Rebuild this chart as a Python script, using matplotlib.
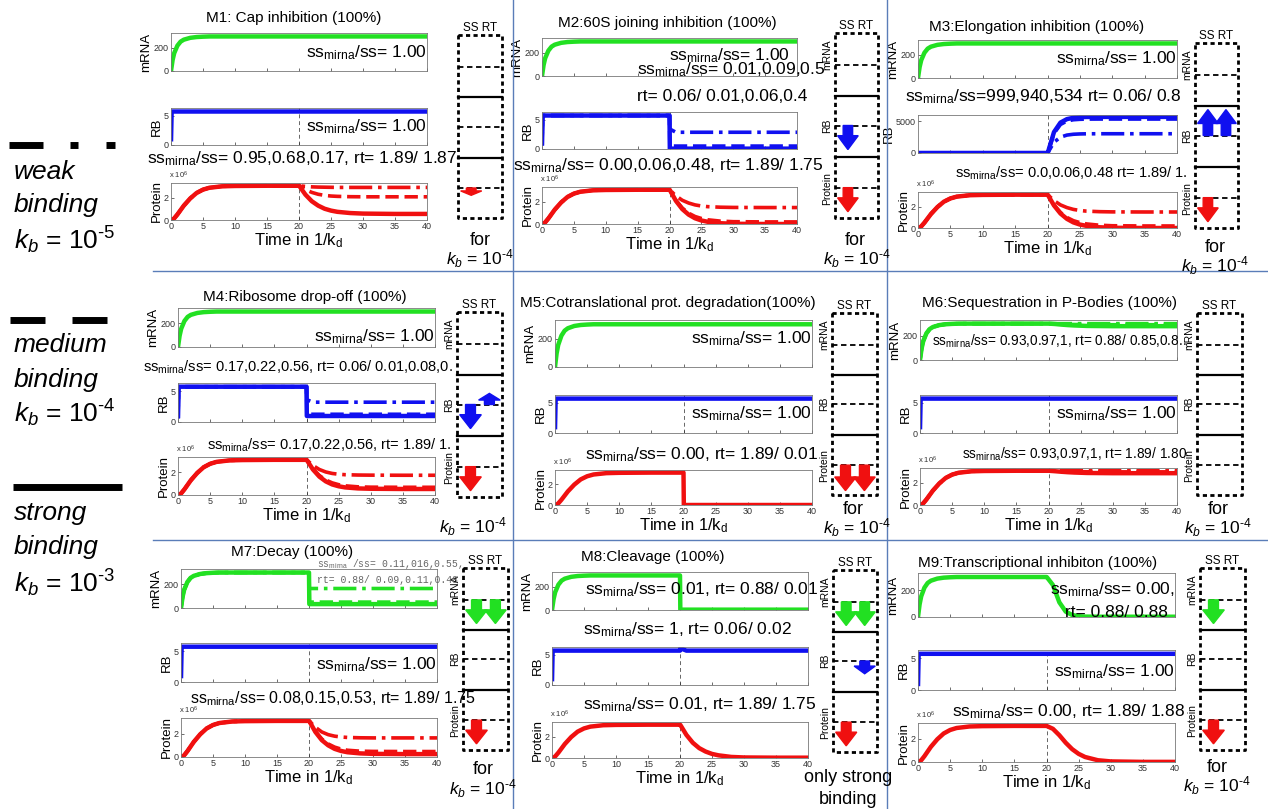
import matplotlib
matplotlib.use('Agg')
import matplotlib.pyplot as plt
from matplotlib.patches import FancyArrow

plt.rcParams['font.family'] = ['Liberation Sans', 'DejaVu Sans']
plt.rcParams['mathtext.fontset'] = 'custom'
plt.rcParams['mathtext.rm'] = 'Liberation Sans'
plt.rcParams['mathtext.it'] = 'Liberation Sans:italic'
plt.rcParams['mathtext.bf'] = 'Liberation Sans:bold'

W, H = 1268, 809

# ---------------- data ----------------
t_rise = [0, 0.25, 0.5, 1, 1.5, 2, 3, 4, 5, 6, 8, 10, 15, 20]
mrna_rise = [0, 95, 155, 220, 255, 272, 288, 295, 298, 300, 300, 300, 300, 300]
prot_rise = [0, 0.04, 0.15, 0.5, 0.9, 1.3, 1.95, 2.45, 2.75, 2.92, 3.05, 3.08, 3.1, 3.1]  # x 10^6
t_rb = [0, 0.1, 20]
rb_rise = [0.6, 5.7, 5.7]

t_after = [20, 20.05, 21, 22, 23, 24, 25, 26, 28, 30, 35, 40]
mrna_flat = [300] * 12
rb_flat = [5.7] * 12

m1_prot_s = [3.1, 3.08, 2.3, 1.7, 1.3, 1.02, 0.85, 0.74, 0.63, 0.58, 0.55, 0.55]
m1_prot_m = [3.1, 3.09, 2.75, 2.5, 2.33, 2.23, 2.17, 2.14, 2.11, 2.1, 2.1, 2.1]
m1_prot_w = [3.1, 3.1, 3.04, 3.0, 2.98, 2.97, 2.96, 2.95, 2.95, 2.95, 2.95, 2.95]

m2_rb_s = [5.7, 0.06, 0.06, 0.06, 0.06, 0.06, 0.06, 0.06, 0.06, 0.06, 0.06, 0.06]
m2_rb_m = [5.7, 0.5, 0.5, 0.5, 0.5, 0.5, 0.5, 0.5, 0.5, 0.5, 0.5, 0.5]
m2_rb_w = [5.7, 3.4, 2.85, 2.85, 2.85, 2.85, 2.85, 2.85, 2.85, 2.85, 2.85, 2.85]
m2_prot_s = [3.1, 3.08, 2.1, 1.35, 0.85, 0.52, 0.32, 0.2, 0.07, 0.02, 0.0, 0.0]
m2_prot_m = [3.1, 3.08, 2.15, 1.45, 0.98, 0.68, 0.5, 0.38, 0.26, 0.21, 0.19, 0.19]
m2_prot_w = [3.1, 3.09, 2.55, 2.15, 1.9, 1.73, 1.63, 1.57, 1.52, 1.5, 1.49, 1.49]

m3_rb_s = [6, 50, 3300, 4800, 5350, 5560, 5650, 5690, 5700, 5700, 5700, 5700]
m3_rb_m = [6, 50, 3100, 4500, 5050, 5250, 5320, 5350, 5360, 5360, 5360, 5360]
m3_rb_w = [6, 40, 1700, 2500, 2830, 2960, 3010, 3030, 3040, 3040, 3040, 3040]

m4_rb_s = [5.7, 0.97, 0.97, 0.97, 0.97, 0.97, 0.97, 0.97, 0.97, 0.97, 0.97, 0.97]
m4_rb_m = [5.7, 1.25, 1.25, 1.25, 1.25, 1.25, 1.25, 1.25, 1.25, 1.25, 1.25, 1.25]
m4_rb_w = [5.7, 3.6, 3.2, 3.2, 3.2, 3.2, 3.2, 3.2, 3.2, 3.2, 3.2, 3.2]
m4_prot_s = [3.1, 3.08, 2.25, 1.62, 1.2, 0.93, 0.77, 0.67, 0.58, 0.55, 0.53, 0.53]
m4_prot_m = [3.1, 3.08, 2.3, 1.72, 1.32, 1.07, 0.91, 0.81, 0.72, 0.69, 0.68, 0.68]
m4_prot_w = [3.1, 3.09, 2.6, 2.25, 2.03, 1.9, 1.83, 1.79, 1.76, 1.75, 1.74, 1.74]

m5_prot_s = [3.1, 0.0, 0.0, 0.0, 0.0, 0.0, 0.0, 0.0, 0.0, 0.0, 0.0, 0.0]

m6_mrna_s = [300, 300, 297, 292, 288, 285, 283, 281, 280, 279, 279, 279]
m6_mrna_m = [300, 300, 298, 296, 294, 293, 292, 291, 291, 291, 291, 291]
m6_prot_s = [3.1, 3.1, 3.06, 3.01, 2.97, 2.94, 2.92, 2.9, 2.89, 2.88, 2.88, 2.88]
m6_prot_m = [3.1, 3.1, 3.08, 3.06, 3.04, 3.03, 3.02, 3.01, 3.0, 3.0, 3.0, 3.0]
m6_prot_w = [3.1] * 12

m7_mrna_s = [300, 33, 33, 33, 33, 33, 33, 33, 33, 33, 33, 33]
m7_mrna_m = [300, 50, 50, 50, 50, 50, 50, 50, 50, 50, 50, 50]
m7_mrna_w = [300, 165, 165, 165, 165, 165, 165, 165, 165, 165, 165, 165]
m7_prot_s = [3.1, 3.08, 2.15, 1.45, 1.0, 0.7, 0.52, 0.41, 0.31, 0.27, 0.25, 0.25]
m7_prot_m = [3.1, 3.08, 2.2, 1.55, 1.12, 0.85, 0.68, 0.58, 0.5, 0.48, 0.47, 0.47]
m7_prot_w = [3.1, 3.09, 2.55, 2.15, 1.92, 1.79, 1.72, 1.68, 1.65, 1.64, 1.64, 1.64]

m8_mrna_s = [300, 3, 3, 3, 3, 3, 3, 3, 3, 3, 3, 3]
m8_rb_s = [5.7, 6.1, 5.7, 5.7, 5.7, 5.7, 5.7, 5.7, 5.7, 5.7, 5.7, 5.7]
m8_prot_s = [3.1, 3.08, 2.15, 1.42, 0.92, 0.6, 0.38, 0.25, 0.1, 0.05, 0.03, 0.03]

m9_mrna_s = [300, 299, 240, 110, 40, 15, 6, 3, 2, 2, 2, 2]
m9_prot_s = [3.1, 3.09, 2.85, 2.3, 1.65, 1.1, 0.7, 0.43, 0.15, 0.05, 0.01, 0.01]

titles = ['M1: Cap inhibition (100%)', 'M2:60S joining inhibition (100%)',
          'M3:Elongation inhibition (100%)', 'M4:Ribosome drop-off (100%)',
          'M5:Cotranslational prot. degradation(100%)', 'M6:Sequestration in P-Bodies (100%)',
          'M7:Decay (100%)', 'M8:Cleavage (100%)', 'M9:Transcriptional inhibiton (100%)']

curves = [
    {'mrna': {'strong': mrna_flat}, 'rb': {'strong': rb_flat},
     'prot': {'strong': m1_prot_s, 'medium': m1_prot_m, 'weak': m1_prot_w}},
    {'mrna': {'strong': mrna_flat}, 'rb': {'strong': m2_rb_s, 'medium': m2_rb_m, 'weak': m2_rb_w},
     'prot': {'strong': m2_prot_s, 'medium': m2_prot_m, 'weak': m2_prot_w}},
    {'mrna': {'strong': mrna_flat}, 'rb': {'strong': m3_rb_s, 'medium': m3_rb_m, 'weak': m3_rb_w},
     'prot': {'strong': m2_prot_s, 'medium': m2_prot_m, 'weak': m2_prot_w}},
    {'mrna': {'strong': mrna_flat}, 'rb': {'strong': m4_rb_s, 'medium': m4_rb_m, 'weak': m4_rb_w},
     'prot': {'strong': m4_prot_s, 'medium': m4_prot_m, 'weak': m4_prot_w}},
    {'mrna': {'strong': mrna_flat}, 'rb': {'strong': rb_flat}, 'prot': {'strong': m5_prot_s}},
    {'mrna': {'strong': m6_mrna_s, 'medium': m6_mrna_m, 'weak': mrna_flat}, 'rb': {'strong': rb_flat},
     'prot': {'strong': m6_prot_s, 'medium': m6_prot_m, 'weak': m6_prot_w}},
    {'mrna': {'strong': m7_mrna_s, 'medium': m7_mrna_m, 'weak': m7_mrna_w}, 'rb': {'strong': rb_flat},
     'prot': {'strong': m7_prot_s, 'medium': m7_prot_m, 'weak': m7_prot_w}},
    {'mrna': {'strong': m8_mrna_s}, 'rb': {'strong': m8_rb_s}, 'prot': {'strong': m8_prot_s}},
    {'mrna': {'strong': m9_mrna_s}, 'rb': {'strong': rb_flat}, 'prot': {'strong': m9_prot_s}},
]

# arrows in the SS/RT boxes: (section, column, direction, size)
arrows = [
    [('prot', 'SS', 1, 0.04)],
    [('rb', 'SS', 1, 0.13), ('prot', 'SS', 1, 0.13)],
    [('rb', 'SS', -1, 0.14), ('rb', 'RT', -1, 0.14), ('prot', 'SS', 1, 0.13)],
    [('rb', 'SS', 1, 0.13), ('rb', 'RT', -1, 0.06), ('prot', 'SS', 1, 0.13)],
    [('prot', 'SS', 1, 0.14), ('prot', 'RT', 1, 0.14)],
    [],
    [('mrna', 'SS', 1, 0.13), ('mrna', 'RT', 1, 0.13), ('prot', 'SS', 1, 0.13)],
    [('mrna', 'SS', 1, 0.13), ('mrna', 'RT', 1, 0.13), ('rb', 'RT', 1, 0.07), ('prot', 'SS', 1, 0.13)],
    [('mrna', 'SS', 1, 0.13), ('prot', 'SS', 1, 0.13)],
]

ss = r'ss$_{\mathrm{mirna}}$/ss='
notes = [
    [(427, 57, ss + ' 1.00', 'right', 12.5), (427, 131, ss + ' 1.00', 'right', 12.5),
     (147, 163, ss + ' 0.95,0.68,0.17, rt= 1.89/ 1.87', 'left', 12.5)],
    [(790, 60, ss + ' 1.00', 'right', 12.5), (637, 74, ss + ' 0.01,0.09,0.5', 'left', 12.5),
     (637, 101, 'rt= 0.06/ 0.01,0.06,0.4', 'left', 12.5),
     (513, 170, ss + ' 0.00,0.06,0.48, rt= 1.89/ 1.75', 'left', 12.5)],
    [(1177, 63, ss + ' 1.00', 'right', 12.5), (905, 101, ss + '999,940,534 rt= 0.06/ 0.8', 'left', 12.5),
     (955, 178, ss + ' 0.0,0.06,0.48 rt= 1.89/ 1.', 'left', 10.5)],
    [(435, 341, ss + ' 1.00', 'right', 12.5),
     (143, 372, ss + ' 0.17,0.22,0.56, rt= 0.06/ 0.01,0.08,0.', 'left', 10.5),
     (207, 450, ss + ' 0.17,0.22,0.56, rt= 1.89/ 1.', 'left', 10.5)],
    [(812, 343, ss + ' 1.00', 'right', 12.5), (812, 418, ss + ' 1.00', 'right', 12.5),
     (585, 459, ss + ' 0.00, rt= 1.89/ 0.01', 'left', 12.5)],
    [(932, 346, ss + ' 0.93,0.97,1, rt= 0.88/ 0.85,0.8..', 'left', 9.8),
     (1177, 418, ss + ' 1.00', 'right', 12.5),
     (962, 459, ss + ' 0.93,0.97,1, rt= 1.89/ 1.80', 'left', 9.8)],
    [(437, 669, ss + ' 1.00', 'right', 12.5),
     (190, 703, ss + ' 0.08,0.15,0.53, rt= 1.89/ 1.75', 'left', 11.5)],
    [(585, 594, ss + ' 0.01, rt= 0.88/ 0.01', 'left', 12.5),
     (583, 634, ss + ' 1, rt= 0.06/ 0.02', 'left', 12.5),
     (583, 709, ss + ' 0.01, rt= 1.89/ 1.75', 'left', 12.5)],
    [(1175, 594, ss + ' 0.00,', 'right', 12.5), (1065, 617, 'rt= 0.88/ 0.88', 'left', 12.5),
     (1175, 676, ss + ' 1.00', 'right', 12.5),
     (952, 716, ss + ' 0.00, rt= 1.89/ 1.88', 'left', 12.5)],
]

# ---------------- layout (pixels) ----------------
layouts = [
    dict(l=171, r=427, m=(33, 71), rb=(108, 145), p=(183, 220), box=(458, 502, 35, 218), title=(294, 18, 'center'), lab=False),
    dict(l=542, r=797, m=(38, 76), rb=(112, 149), p=(187, 224), box=(835, 878, 33, 218), title=(667, 23, 'center'), lab=True),
    dict(l=918, r=1177, m=(40, 78), rb=(115, 153), p=(192, 228), box=(1195, 1238, 43, 228), title=(1037, 27, 'center'), lab=True),
    dict(l=178, r=435, m=(308, 347), rb=(383, 422), p=(457, 495), box=(457, 502, 312, 497), title=(305, 297, 'center'), lab=True),
    dict(l=555, r=812, m=(320, 367), rb=(395, 433), p=(470, 505), box=(832, 877, 313, 495), title=(520, 303, 'left'), lab=True),
    dict(l=920, r=1177, m=(320, 360), rb=(395, 433), p=(468, 505), box=(1197, 1242, 313, 495), title=(1050, 303, 'center'), lab=True),
    dict(l=181, r=437, m=(569, 608), rb=(643, 682), p=(718, 757), box=(463, 508, 568, 750), title=(292, 552, 'center'), lab=True),
    dict(l=552, r=808, m=(572, 610), rb=(647, 685), p=(722, 758), box=(833, 877, 570, 752), title=(653, 557, 'center'), lab=True),
    dict(l=918, r=1175, m=(573, 617), rb=(650, 690), p=(723, 762), box=(1200, 1245, 568, 750), title=(1038, 563, 'center'), lab=True),
]
for_pos = [(480, 240), (855, 240), (1215, 247), None, (853, 510), (1218, 510), (483, 770), None, (1217, 767)]
kb_pos = [(480, 259), (857, 259), (1215, 266), (473, 527), (857, 528), (1218, 528), (483, 789), None, (1217, 786)]

colors = {'mrna': '#22e022', 'rb': '#1010f0', 'prot': '#f01010'}
styles = {'strong': ('-', 3.2), 'medium': ('--', 2.6), 'weak': ('-.', 2.6)}

fig = plt.figure(figsize=(W / 100, H / 100), dpi=100)


def px_rect(l, r, t, b):
    return [l / W, 1 - b / H, (r - l) / W, (b - t) / H]


def kb_label(exp):
    return r'$k_b$ = 10$^{\text{-' + exp + '}}$'


def trace_axes(lay, kind, pcurves, idx):
    top, bot = lay[{'mrna': 'm', 'rb': 'rb', 'prot': 'p'}[kind]]
    ax = fig.add_axes(px_rect(lay['l'], lay['r'], top, bot))
    for name in ['strong', 'medium', 'weak']:
        if name not in pcurves[kind]:
            continue
        after = pcurves[kind][name]
        if kind == 'mrna':
            t, y = t_rise + t_after, mrna_rise + after
        elif kind == 'rb':
            t, y = t_rb + t_after, rb_rise + after
        else:
            t, y = t_rise + t_after, prot_rise + after
        ls, lw = styles[name]
        ax.plot(t, y, ls=ls, lw=lw, color=colors[kind], solid_capstyle='butt')
    if kind != 'mrna':
        ax.axvline(20, color='#666666', lw=0.7, ls=(0, (4, 3)), zorder=0)
    ax.set_xlim(0, 40)
    ax.set_xticks(range(0, 41, 5))
    if kind == 'mrna':
        ax.set_ylim(0, 330)
        ax.set_yticks([0, 200])
        ax.set_ylabel('mRNA', fontsize=9.5, labelpad=1)
    elif kind == 'rb':
        if idx == 2:
            ax.set_ylim(0, 6000)
            ax.set_yticks([0, 5000])
        else:
            ax.set_ylim(0, 6.3)
            ax.set_yticks([0, 5])
        ax.set_ylabel('RB', fontsize=9.5, labelpad=1)
    else:
        ax.set_ylim(0, 3.35)
        ax.set_yticks([0, 2])
        ax.set_ylabel('Protein', fontsize=9.5, labelpad=1)
        ax.set_xlabel(r'Time in 1/k$_{\mathrm{d}}$', fontsize=12, labelpad=0)
    if kind != 'prot':
        ax.set_xticklabels([])
    ax.tick_params(direction='in', length=2, width=0.5, labelsize=6.5, pad=1.5, colors='#333333')
    for sp in ax.spines.values():
        sp.set_linewidth(0.6)
        sp.set_color('#777777')
    return ax


def draw_box(lay, arr):
    x0, x1, y0, y1 = lay['box']
    ax = fig.add_axes(px_rect(x0, x1, y0, y1))
    ax.set_xlim(0, 1)
    ax.set_ylim(1, 0)
    ax.axis('off')
    ax.plot([0, 1, 1, 0, 0], [0, 0, 1, 1, 0], color='k', lw=2, ls=(0, (1.5, 1.2)), clip_on=False)
    for f in [0.34, 0.67]:
        ax.plot([0, 1], [f, f], color='k', lw=1.6, clip_on=False)
    levels = {'mrna': 0.175, 'rb': 0.5, 'prot': 0.836}
    for f in levels.values():
        ax.plot([0, 1], [f, f], color='k', lw=1.3, ls=(0, (3, 2)), clip_on=False)
    cols = {'SS': 0.3, 'RT': 0.72}
    for sec, col, d, size in arr:
        hl = min(0.075, size * 0.6)
        ax.add_patch(FancyArrow(cols[col], levels[sec], 0, d * size, width=0.22,
                                head_width=0.48, head_length=hl, length_includes_head=True,
                                color=colors[sec], clip_on=False, zorder=5))
    return ax


for i, lay in enumerate(layouts):
    for kind in ['mrna', 'rb', 'prot']:
        trace_axes(lay, kind, curves[i], i)
    draw_box(lay, arrows[i])

# overlay for free text and separators (pixel coordinates)
ov = fig.add_axes([0, 0, 1, 1], zorder=10)
ov.set_xlim(0, W)
ov.set_ylim(H, 0)
ov.axis('off')
ov.patch.set_alpha(0)

grid_col = '#5a7db8'
ov.plot([513, 513], [0, H], color=grid_col, lw=1)
ov.plot([887, 887], [0, H], color=grid_col, lw=1)
ov.plot([153, W], [271, 271], color=grid_col, lw=1)
ov.plot([153, W], [540, 540], color=grid_col, lw=1)

for i, lay in enumerate(layouts):
    tx, ty, tha = lay['title']
    ov.text(tx, ty, titles[i], fontsize=11, ha=tha, va='center')
    for x, y, s, ha, fs in notes[i]:
        ov.text(x, y, s, fontsize=fs, ha=ha, va='baseline')
    ov.text(lay['l'] - 2, lay['p'][0] - 2, r'x 10$^6$', fontsize=5.5, ha='left', va='bottom', color='#333333')
    x0, x1, y0, y1 = lay['box']
    xc = (x0 + x1) / 2
    ov.text(xc, y0 - 1, 'SS RT', fontsize=8.5, ha='center', va='bottom')
    if lay['lab']:
        for f, lab in [(0.12, 'mRNA'), (0.5, 'RB'), (0.84, 'Protein')]:
            ov.text(x0 - 3, y0 + f * (y1 - y0), lab, fontsize=7.5, rotation=90, ha='right', va='center')
    if for_pos[i]:
        ov.text(for_pos[i][0], for_pos[i][1], 'for', fontsize=13, ha='center', va='center')
    if kb_pos[i]:
        ov.text(kb_pos[i][0], kb_pos[i][1], kb_label('4'), fontsize=12.5, ha='center', va='center')

# M7 small grey annotation
ov.text(317, 567, r'ss$_{\mathrm{mirna}}$ /ss= 0.11,016,0.55,', fontsize=7, family='Liberation Mono',
        color='#666666', ha='left', va='baseline')
ov.text(317, 583, 'rt= 0.88/ 0.09,0.11,0.48', fontsize=7, family='Liberation Mono',
        color='#666666', ha='left', va='baseline')
# M8 footnote
ov.text(848, 778, 'only strong', fontsize=13, ha='center', va='center')
ov.text(848, 799, 'binding', fontsize=13, ha='center', va='center')

# left-hand legend of binding strengths
lw_leg = 5
for a, b in [(9, 43), (70, 78), (106, 115)]:
    ov.plot([a, b], [145, 145], color='k', lw=lw_leg, solid_capstyle='butt')
for a, b in [(10, 45), (72, 107)]:
    ov.plot([a, b], [320, 320], color='k', lw=lw_leg, solid_capstyle='butt')
ov.plot([13, 122], [487, 487], color='k', lw=lw_leg, solid_capstyle='butt')

leg_texts = [('weak', 172), ('binding', 205), ('medium', 345), ('binding', 380),
             ('strong', 513), ('binding', 547)]
for s, y in leg_texts:
    ov.text(14, y, s, fontsize=19, style='italic', ha='left', va='center')
for exp, y in [('5', 240), ('4', 413), ('3', 583)]:
    ov.text(14, y, kb_label(exp), fontsize=19, ha='left', va='center')

fig.savefig('out.png', dpi=100)
